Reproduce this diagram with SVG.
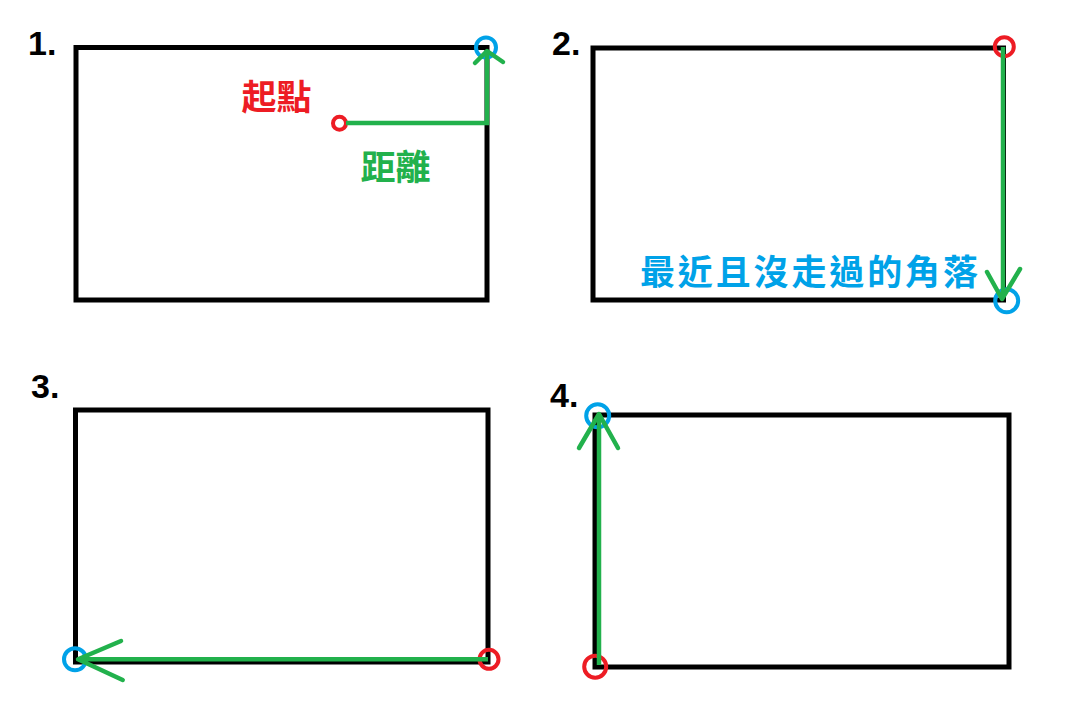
<svg xmlns="http://www.w3.org/2000/svg" width="1080" height="720" viewBox="0 0 1080 720">
<style>
.frame{fill:none;stroke:#000;stroke-width:5}
.num{font-family:"Liberation Sans","DejaVu Sans",sans-serif;font-weight:bold;font-size:34px;fill:#000}
.cjk{font-family:"Noto Sans CJK TC","Noto Sans CJK SC",sans-serif;font-weight:bold}
.start{fill:none;stroke:#ed1c24;stroke-width:4}
.end{fill:none;stroke:#00a2e8;stroke-width:4}
.path{fill:none;stroke:#22b14c;stroke-width:4.5;stroke-linecap:butt}
.head{fill:none;stroke:#22b14c;stroke-width:4.5;stroke-linecap:round;stroke-linejoin:round}
</style>
<rect width="1080" height="720" fill="#fff"/>
<g id="panel1">
  <rect class="frame" x="76" y="47.5" width="411" height="252.5"/>
  <text class="num" x="28" y="55">1.</text>
  <text class="cjk" x="241.5" y="109.5" font-size="35" fill="#ed1c24">起點</text>
  <text class="cjk" x="360.5" y="179.5" font-size="35" fill="#22b14c">距離</text>
  <circle id="p1-start" class="start" cx="339.5" cy="123.3" r="6.5"/>
  <circle id="p1-end" class="end" cx="486" cy="47.5" r="10"/>
</g>
<g id="panel2">
  <rect class="frame" x="593" y="48" width="410.5" height="252"/>
  <text class="num" x="552" y="55">2.</text>
  <text class="cjk" x="640" y="284.5" font-size="35" fill="#00a2e8" textLength="338" lengthAdjust="spacing">最近且沒走過的角落</text>
  <circle id="p2-start" class="start" cx="1004.3" cy="46.7" r="9.5"/>
  <circle id="p2-end" class="end" cx="1006.7" cy="300.7" r="11.5"/>
</g>
<g id="panel3">
  <rect class="frame" x="75.5" y="410" width="412.5" height="252"/>
  <text class="num" x="31" y="398">3.</text>
  <circle id="p3-start" class="start" cx="489" cy="659.3" r="9.5"/>
  <circle id="p3-end" class="end" cx="75" cy="659.3" r="11"/>
</g>
<g id="panel4">
  <rect class="frame" x="595" y="415" width="414" height="252"/>
  <text class="num" x="550" y="406.5">4.</text>
  <circle id="p4-start" class="start" cx="595.2" cy="666.7" r="11"/>
  <circle id="p4-end" class="end" cx="597.7" cy="415.7" r="11.5"/>
</g>
<g id="connectors">
  <path class="path" d="M346 123 H487 V50"/>
  <path class="head" d="M475 63 L487 51 L503 62"/>
  <path class="path" d="M1003 47 V297"/>
  <path class="head" d="M987 272 L1002 299 L1020 269"/>
  <path class="path" d="M488 659.3 H78"/>
  <path class="head" d="M121 641 L78 659.3 L122.7 680"/>
  <path class="path" d="M599 665 V414"/>
  <path class="head" d="M579 448 L599 414 L618 448"/>
</g>
</svg>
